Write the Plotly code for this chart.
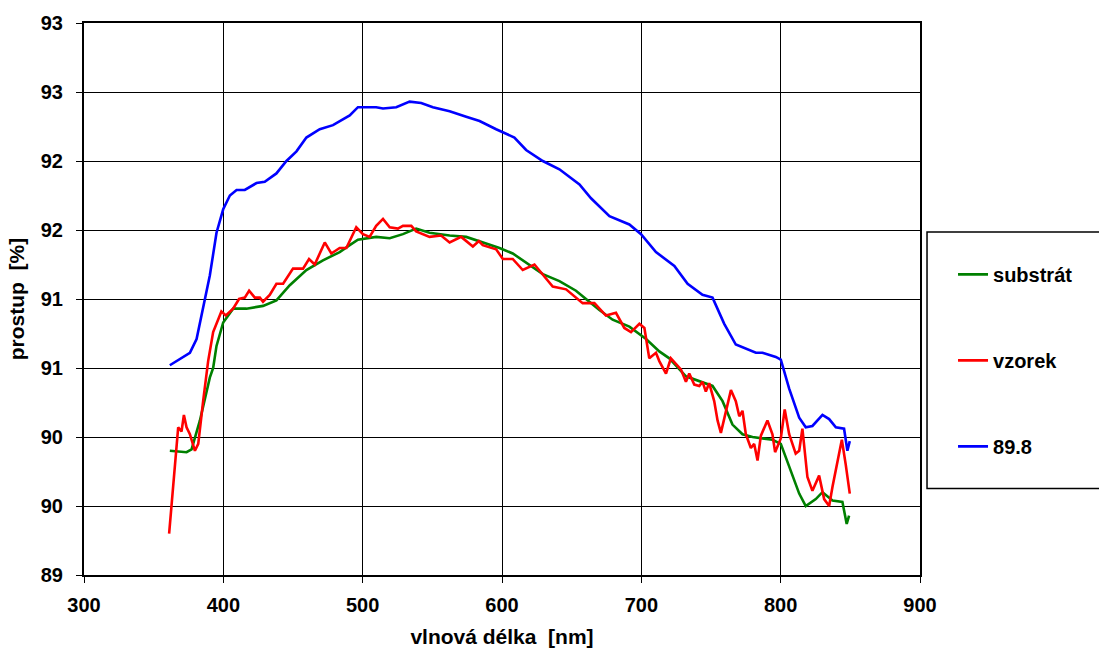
import plotly.graph_objects as go

# ---- data ----
substrat_x = [361.6, 373.6, 377.2, 383.2, 390.3, 392.7, 395.1, 399.9, 407.0, 416.6, 428.5, 438.1,
              447.7, 459.6, 471.5, 483.5, 490.7, 496.6, 509.7, 519.4, 528.9, 538.4, 548.0, 562.4,
              574.3, 586.2, 598.2, 607.7, 619.7, 629.3, 641.2, 653.1, 662.7, 669.9, 679.4, 691.4,
              703.4, 712.9, 720.1, 732.0, 751.1, 758.3, 765.4, 772.6, 779.8, 794.1, 800.1, 806.1,
              813.3, 818.0, 825.2, 830.0, 837.2, 844.3, 847.4, 849.1]
substrat_y = [89.90, 89.89, 89.91, 90.12, 90.43, 90.50, 90.66, 90.83, 90.93, 90.93, 90.95, 90.99,
              91.10, 91.21, 91.28, 91.34, 91.39, 91.43, 91.45, 91.44, 91.47, 91.51, 91.48, 91.46,
              91.45, 91.41, 91.37, 91.33, 91.25, 91.18, 91.13, 91.06, 90.98, 90.92, 90.85, 90.80,
              90.71, 90.62, 90.57, 90.44, 90.37, 90.26, 90.09, 90.02, 90.00, 89.98, 89.95, 89.78,
              89.59, 89.50, 89.55, 89.60, 89.54, 89.53, 89.37, 89.43]

vzorek_x = [361.1, 364.0, 367.6, 370.0, 371.7, 373.6, 376.0, 379.6, 382.0, 385.5, 389.1, 392.7,
            398.6, 401.8, 407.0, 411.3, 415.4, 418.5, 422.6, 426.2, 428.5, 433.3, 438.1, 442.9,
            450.0, 457.2, 461.5, 465.6, 472.8, 477.5, 483.5, 488.3, 495.4, 500.2, 505.0, 509.7,
            514.6, 519.4, 525.3, 528.9, 534.9, 538.4, 548.0, 556.3, 562.4, 570.7, 579.1, 583.4,
            586.2, 595.8, 600.6, 607.7, 614.9, 623.3, 632.8, 636.4, 646.0, 657.9, 666.3, 674.6,
            681.8, 687.8, 692.6, 698.6, 702.2, 705.7, 710.5, 712.9, 717.7, 721.2, 728.4, 732.0,
            734.4, 738.0, 741.6, 743.9, 746.3, 748.7, 752.3, 754.7, 757.1, 760.7, 764.3, 767.8,
            770.3, 772.6, 775.0, 778.6, 781.0, 783.4, 785.8, 790.5, 794.1, 796.0, 800.1, 802.9,
            806.1, 810.8, 813.3, 815.6, 819.2, 822.8, 827.6, 831.2, 834.8, 837.2, 840.8, 843.9,
            846.7, 849.6]
vzorek_y = [89.30, 89.66, 90.07, 90.04, 90.16, 90.07, 90.02, 89.90, 89.95, 90.26, 90.55, 90.76,
            90.91, 90.88, 90.93, 91.00, 91.01, 91.06, 91.01, 91.01, 90.98, 91.03, 91.11, 91.11,
            91.22, 91.22, 91.29, 91.25, 91.41, 91.33, 91.37, 91.37, 91.52, 91.47, 91.45, 91.53,
            91.58, 91.52, 91.51, 91.53, 91.53, 91.49, 91.45, 91.46, 91.41, 91.45, 91.38, 91.42,
            91.39, 91.36, 91.29, 91.29, 91.21, 91.25, 91.13, 91.09, 91.07, 90.97, 90.97, 90.88,
            90.90, 90.79, 90.76, 90.82, 90.79, 90.57, 90.61, 90.55, 90.46, 90.57, 90.49, 90.40,
            90.46, 90.38, 90.37, 90.40, 90.33, 90.39, 90.26, 90.12, 90.03, 90.19, 90.34, 90.26,
            90.15, 90.19, 90.02, 89.92, 89.95, 89.83, 90.01, 90.12, 90.02, 89.89, 89.99, 90.20,
            90.02, 89.88, 89.90, 90.06, 89.71, 89.61, 89.72, 89.55, 89.50, 89.64, 89.83, 89.98,
            89.80, 89.59]

s898_x = [361.6, 371.2, 376.0, 380.8, 385.5, 390.3, 395.1, 399.9, 404.7, 409.5, 415.4, 423.8,
          429.7, 438.1, 445.3, 452.5, 459.6, 469.2, 478.7, 490.7, 496.6, 509.7, 514.6, 524.1,
          533.7, 542.0, 550.4, 562.4, 574.3, 583.9, 595.8, 608.9, 617.3, 629.3, 641.2, 655.6,
          663.9, 677.1, 691.4, 699.8, 710.5, 723.7, 733.2, 743.9, 751.1, 759.5, 767.8, 775.0,
          782.2, 787.0, 796.5, 800.1, 806.1, 813.3, 818.0, 822.8, 830.0, 834.8, 839.6, 845.5,
          847.9, 849.6]
s898_y = [90.52, 90.58, 90.61, 90.71, 90.93, 91.17, 91.48, 91.65, 91.75, 91.79, 91.79, 91.84,
          91.85, 91.91, 92.00, 92.07, 92.17, 92.23, 92.26, 92.33, 92.39, 92.39, 92.38, 92.39,
          92.43, 92.42, 92.39, 92.36, 92.32, 92.29, 92.23, 92.17, 92.08, 92.00, 91.94, 91.83,
          91.73, 91.60, 91.54, 91.47, 91.34, 91.24, 91.11, 91.03, 91.01, 90.82, 90.67, 90.64,
          90.61, 90.61, 90.58, 90.56, 90.35, 90.14, 90.07, 90.08, 90.16, 90.13, 90.07, 90.06,
          89.90, 89.97]

series_names = ["substrát", "vzorek", "89.8"]
series_colors = ["#008000", "#FF0000", "#0000FF"]

y_tickvals = [89, 89.5, 90, 90.5, 91, 91.5, 92, 92.5, 93]
y_ticktext = ["89", "90", "90", "91", "91", "92", "92", "93", "93"]
x_tickvals = [300, 400, 500, 600, 700, 800, 900]

FONT = "Liberation Sans, Arial, sans-serif"

fig = go.Figure()
for i, (xs, ys) in enumerate([(substrat_x, substrat_y), (vzorek_x, vzorek_y), (s898_x, s898_y)]):
    fig.add_trace(go.Scatter(
        x=xs, y=ys, mode="lines", name=series_names[i], legendgroup=f"g{i}",
        line=dict(color=series_colors[i], width=2.6),
    ))

fig.update_layout(
    width=1099, height=658,
    margin=dict(l=84, r=179, t=20, b=83),
    paper_bgcolor="white", plot_bgcolor="white",
    font=dict(family=FONT, size=20, color="black", weight="bold"),
    showlegend=True,
    legend=dict(
        x=1.0395, xanchor="left", y=0.58, yanchor="top",
        bgcolor="rgba(0,0,0,0)", borderwidth=0,
        tracegroupgap=57, itemwidth=30,
        font=dict(family=FONT, size=20, color="black", weight="bold"),
    ),
    xaxis=dict(
        range=[300, 900], tickvals=x_tickvals,
        showgrid=True, gridcolor="black", gridwidth=1,
        showline=True, linecolor="black", linewidth=2, mirror=True,
        ticks="outside", ticklen=6, tickwidth=1, tickcolor="black",
        ticklabelstandoff=5,
        tickfont=dict(family=FONT, size=20, color="black", weight="bold"),
        title=dict(text="vlnová délka\u00a0 [nm]", standoff=14,
                   font=dict(family=FONT, size=21, color="black", weight="bold")),
        zeroline=False,
    ),
    yaxis=dict(
        range=[89, 93], tickvals=y_tickvals, ticktext=y_ticktext,
        showgrid=True, gridcolor="black", gridwidth=1,
        showline=True, linecolor="black", linewidth=2, mirror=True,
        ticks="outside", ticklen=6, tickwidth=1, tickcolor="black",
        ticklabelstandoff=9,
        tickfont=dict(family=FONT, size=20, color="black", weight="bold"),
        title=dict(text="prostup\u00a0 [%]", standoff=10,
                   font=dict(family=FONT, size=21, color="black", weight="bold")),
        zeroline=False,
    ),
    shapes=[dict(type="rect", xref="paper", yref="paper",
                 x0=1.0084, x1=1.30, y0=0.1568, y1=0.6216,
                 line=dict(color="black", width=1.5), fillcolor="rgba(0,0,0,0)", layer="below")],
)

fig.write_html("out.html")
